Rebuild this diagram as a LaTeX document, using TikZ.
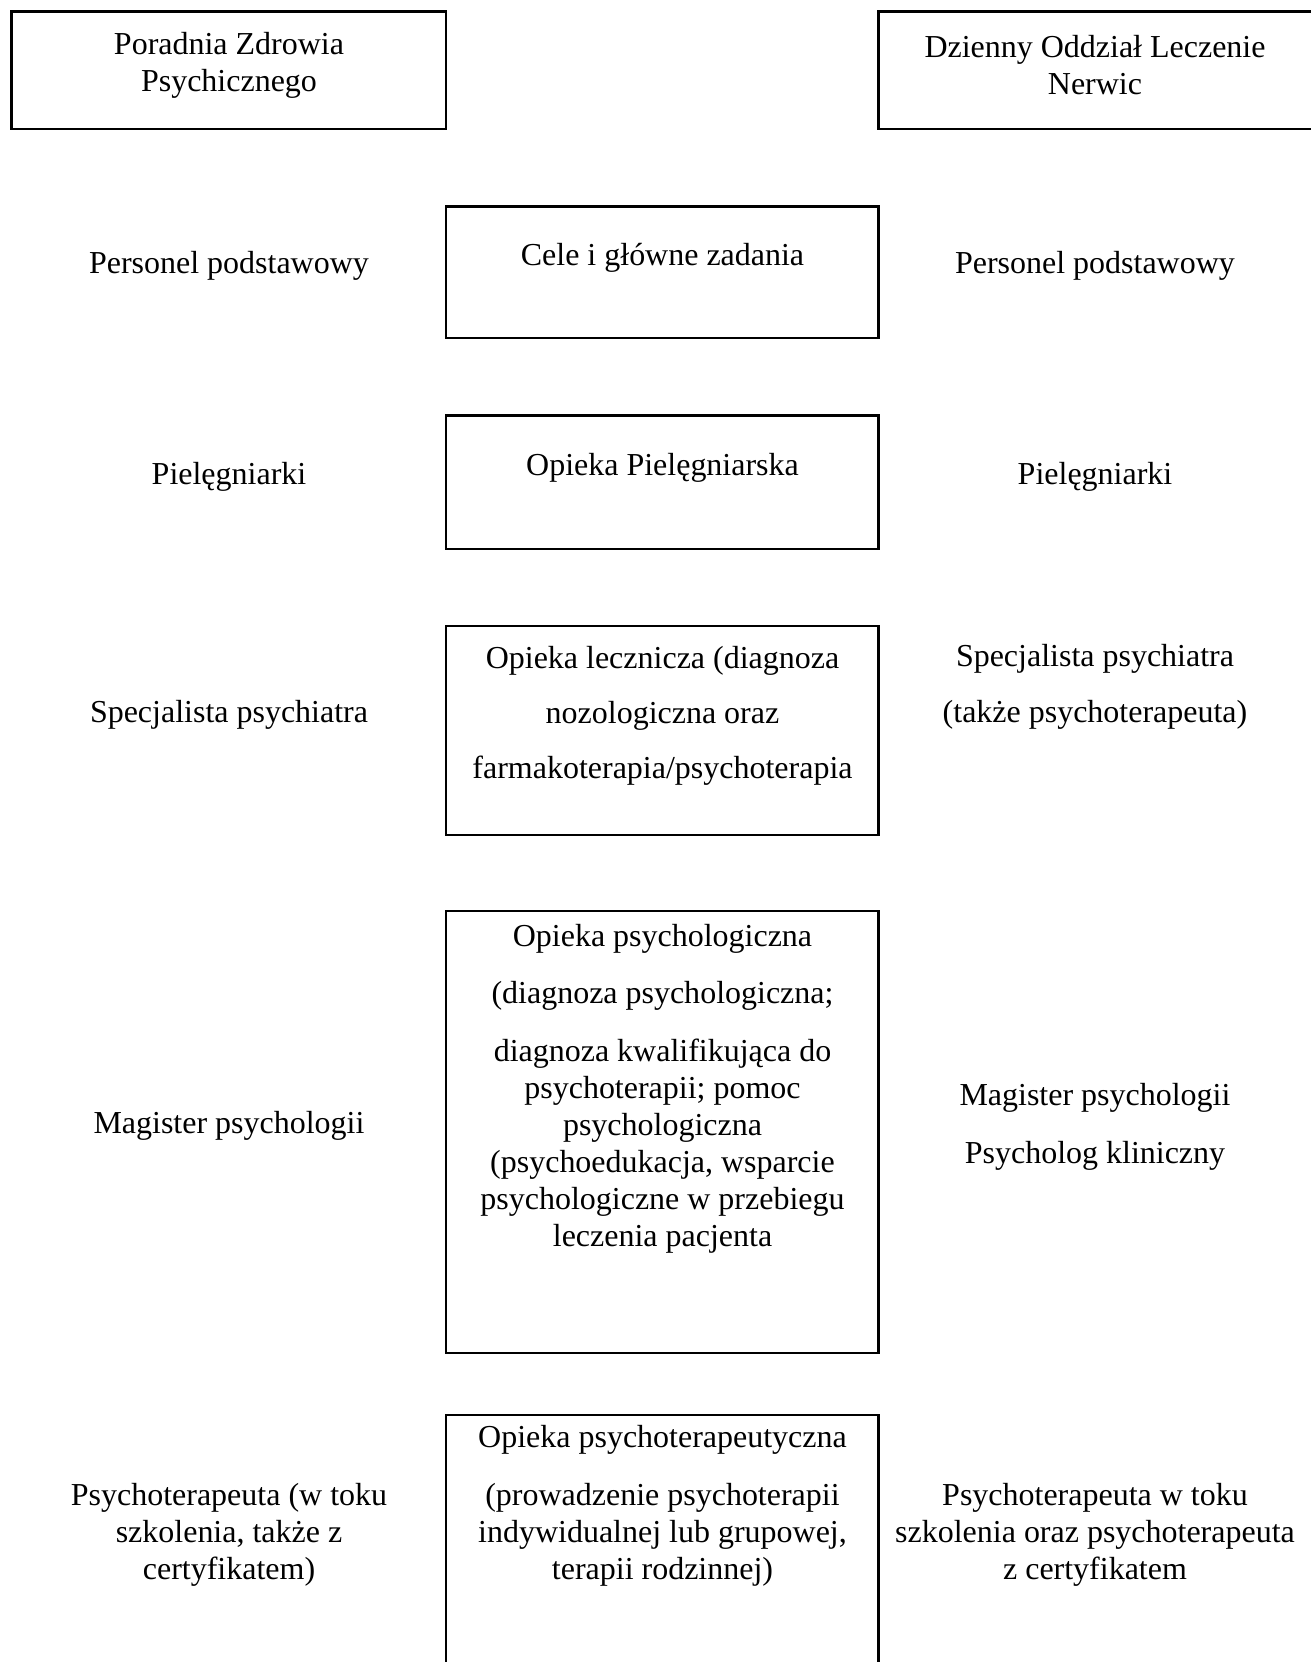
\documentclass[tikz,border=0pt]{standalone}
\usepackage{fontspec}
\setmainfont{Liberation Serif}
\usepackage{tikz}

\tikzset{
  txt/.style={align=center, inner sep=0pt, font=\fontsize{18.2}{21}\selectfont},
  frame/.style={draw, line width=1.3pt}
}

\begin{document}
\begin{tikzpicture}
\useasboundingbox (0,0) rectangle (26.22,-33.24);

% naglowki
\draw[frame] (0.23,-0.23) rectangle (8.92,-2.58);
\node[txt] (pzp) at (4.58,-1.31) {Poradnia Zdrowia\\Psychicznego};
\draw[frame] (17.57,-0.23) rectangle (26.6,-2.58);
\node[txt] (dol) at (21.9,-1.31) {Dzienny Oddział Leczenie\\Nerwic};

% srodkowe ramki
\draw[frame] (8.92,-4.13) rectangle (17.57,-6.76);
\draw[frame] (8.92,-8.31) rectangle (17.57,-10.98);
\draw[frame] (8.92,-12.52) rectangle (17.57,-16.70);
\draw[frame] (8.92,-18.22) rectangle (17.57,-27.06);
\draw[frame] (8.92,-28.30) rectangle (17.57,-33.60);

\node[txt] (cele) at (13.25,-5.15) {Cele i główne zadania};
\node[txt] (opiel) at (13.25,-9.35) {Opieka Pielęgniarska};
\node[txt] (olecz) at (13.25,-14.31) {Opieka lecznicza (diagnoza\\[0.36cm]nozologiczna oraz\\[0.36cm]farmakoterapia/psychoterapia};
\node[txt] (opsych) at (13.25,-21.77) {Opieka psychologiczna\\[0.42cm](diagnoza psychologiczna;\\[0.42cm]diagnoza kwalifikująca do\\psychoterapii; pomoc\\psychologiczna\\(psychoedukacja, wsparcie\\psychologiczne w przebiegu\\leczenia pacjenta};
\node[txt] (oter) at (13.25,-30.12) {Opieka psychoterapeutyczna\\[0.42cm](prowadzenie psychoterapii\\indywidualnej lub grupowej,\\terapii rodzinnej)};

% lewa kolumna
\node[txt] (lpers) at (4.58,-5.31) {Personel podstawowy};
\node[txt] (lpiel) at (4.58,-9.53) {Pielęgniarki};
\node[txt] (lspec) at (4.58,-14.29) {Specjalista psychiatra};
\node[txt] (lmag) at (4.58,-22.51) {Magister psychologii};
\node[txt] (lter) at (4.58,-30.69) {Psychoterapeuta (w toku\\szkolenia, także z\\certyfikatem)};

% prawa kolumna
\node[txt] (rpers) at (21.9,-5.31) {Personel podstawowy};
\node[txt] (rpiel) at (21.9,-9.53) {Pielęgniarki};
\node[txt] (rspec) at (21.9,-13.73) {Specjalista psychiatra\\[0.38cm](także psychoterapeuta)};
\node[txt] (rmag) at (21.9,-22.53) {Magister psychologii\\[0.42cm]Psycholog kliniczny};
\node[txt] (rter) at (21.9,-30.69) {Psychoterapeuta w toku\\szkolenia oraz psychoterapeuta\\z certyfikatem};

\end{tikzpicture}
\end{document}
